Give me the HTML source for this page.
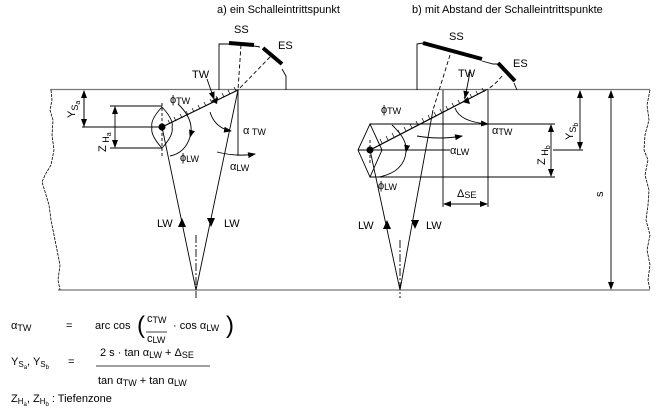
<!DOCTYPE html>
<html><head><style>
html,body{margin:0;padding:0;background:#fff;}
svg{display:block;font-family:"Liberation Sans",Arial,sans-serif;}
</style></head><body>
<svg width="661" height="415" viewBox="0 0 661 415" xmlns="http://www.w3.org/2000/svg">
<defs>
<marker id="ah" markerWidth="8" markerHeight="6" refX="7" refY="3" orient="auto" markerUnits="userSpaceOnUse"><path d="M0,0 L8,3 L0,6 Z" fill="#000"/></marker>
</defs>
<g fill="#000" font-size="11">
<text x="217" y="13">a) ein Schalleintrittspunkt</text>
<text x="412" y="13">b) mit Abstand der Schalleintrittspunkte</text>
</g>
<!-- workpiece -->
<g stroke="#777" stroke-width="1.3" fill="none">
<line x1="50" y1="89.5" x2="650" y2="89.5"/>
<line x1="58" y1="290" x2="650" y2="290"/>
</g>
<path d="M51,90 L52,100 L50,110 L53,120 L52,135 L54,150 L51,165 L45,175 L42,182 L46,195 L49,205 L51,220 L54,235 L57,250 L60,265 L58,280 L60,290" stroke="#000" stroke-width="0.8" fill="none" stroke-dasharray="3,1"/>
<path d="M650,90 L647,105 L649,120 L645,135 L644,150 L648,160 L645,175 L649,190 L648,205 L646,220 L650,235 L647,250 L650,265 L648,280 L650,290" stroke="#000" stroke-width="0.8" fill="none" stroke-dasharray="3,1"/>

<!-- LEFT -->
<g stroke="#000" fill="none" stroke-width="0.9">
<polyline points="219,90 219,44 229,44"/>
<polyline points="254,46 260,47"/>
<polyline points="282,69 286,76 286,90"/>
<line x1="229" y1="43" x2="254" y2="45" stroke-width="4"/>
<line x1="263" y1="48" x2="282" y2="64" stroke-width="4"/>
<line x1="241" y1="45" x2="238" y2="90" stroke-dasharray="4,2.5"/>
<line x1="270" y1="57" x2="238" y2="90" stroke-dasharray="4,2.5"/>
<line x1="207" y1="79" x2="214" y2="99" marker-end="url(#ah)"/>
<line x1="238" y1="90" x2="162" y2="127" stroke-width="1.2"/>
<line x1="162" y1="127" x2="196" y2="290"/>
<line x1="238" y1="90" x2="196" y2="290"/>
<line x1="196" y1="235" x2="196" y2="298" stroke-dasharray="8,2,2,2"/>
<line x1="238" y1="90" x2="238" y2="156"/>
<path d="M210,112 Q215,128 231,131" marker-end="url(#ah)"/>
<path d="M217,152 Q237,157 255,154" marker-end="url(#ah)"/>
<path d="M178,104 Q195,120 190,137" marker-end="url(#ah)"/>
<path d="M190,137 Q185,153 170,156"/>
<path d="M162,107 Q150,120 152,127 Q150,135 162,148 Q174,135 172,127 Q174,120 162,107 Z"/>
<line x1="162" y1="103" x2="162" y2="156" stroke-dasharray="3,2"/>
<line x1="82" y1="127" x2="162" y2="127"/>
<line x1="110" y1="106" x2="162" y2="106"/>
<line x1="110" y1="148" x2="162" y2="148"/>
<line x1="84" y1="127" x2="84" y2="91" marker-end="url(#ah)"/>
<line x1="84" y1="91" x2="84" y2="126" marker-end="url(#ah)"/>
<line x1="115" y1="127" x2="115" y2="107" marker-end="url(#ah)"/>
<line x1="115" y1="127" x2="115" y2="147" marker-end="url(#ah)"/>
</g>
<g stroke="#000" stroke-width="0.7">
<line x1="236" y1="91" x2="234" y2="87"/><line x1="230" y1="94" x2="228" y2="90"/><line x1="224" y1="97" x2="222" y2="93"/><line x1="218" y1="100" x2="216" y2="96"/><line x1="212" y1="103" x2="210" y2="99"/><line x1="206" y1="106" x2="204" y2="102"/><line x1="200" y1="109" x2="198" y2="105"/><line x1="194" y1="112" x2="192" y2="108"/><line x1="188" y1="115" x2="186" y2="111"/><line x1="182" y1="118" x2="180" y2="114"/><line x1="176" y1="121" x2="174" y2="117"/><line x1="170" y1="124" x2="168" y2="120"/>
</g>
<circle cx="162" cy="127" r="3.5" fill="#000"/>
<path d="M211,101 L218,97 L217,104 Z" fill="#000"/>
<path d="M182,218 L178,227 L186,227 Z" fill="#000"/>
<path d="M211,227 L207,218 L215,218 Z" fill="#000"/>
<g fill="#000" font-size="11">
<text x="234" y="33">SS</text><text x="278" y="49">ES</text><text x="192" y="78">TW</text>
<text x="170" y="103">ϕ<tspan font-size="9" dy="1">TW</tspan></text>
<text x="180" y="161">ϕ<tspan font-size="9" dy="1">LW</tspan></text>
<text x="243" y="134">α<tspan font-size="9" dy="1"> TW</tspan></text>
<text x="230" y="170">α<tspan font-size="9" dy="1">LW</tspan></text>
<text x="157" y="227">LW</text><text x="224" y="227">LW</text>
<text transform="translate(75,118) rotate(-90)">Y<tspan font-size="9" dy="3">S</tspan><tspan font-size="7" dy="2">a</tspan></text>
<text transform="translate(106,152) rotate(-90)">Z<tspan font-size="9" dy="3"> H</tspan><tspan font-size="7" dy="2">a</tspan></text>
</g>

<!-- RIGHT -->
<g stroke="#000" fill="none" stroke-width="0.9">
<polyline points="417,90 417,44 423,43"/>
<polyline points="482,61 493,64 497,64"/>
<polyline points="514,83 517,90"/>
<line x1="423" y1="43" x2="482" y2="59" stroke-width="4"/>
<line x1="498" y1="63" x2="515" y2="81" stroke-width="4"/>
<line x1="450" y1="55" x2="433" y2="110" stroke-dasharray="4,2.5"/>
<line x1="433" y1="110" x2="400" y2="290"/>
<line x1="370" y1="150" x2="400" y2="290"/>
<path d="M502,76 Q494,86 486,90" stroke-dasharray="4,2.5"/>
<line x1="486" y1="90" x2="370" y2="150" stroke-width="1.2"/>
<line x1="400" y1="240" x2="400" y2="298" stroke-dasharray="8,2,2,2"/>
<line x1="470" y1="72" x2="465" y2="98" marker-end="url(#ah)"/>
<line x1="443" y1="90" x2="443" y2="207"/>
<line x1="488" y1="90" x2="488" y2="207"/>
<line x1="465" y1="204" x2="444" y2="204" marker-end="url(#ah)"/>
<line x1="465" y1="204" x2="487" y2="204" marker-end="url(#ah)"/>
<line x1="370" y1="124" x2="555" y2="124"/>
<line x1="358" y1="150" x2="450" y2="150"/>
<line x1="553" y1="150" x2="583" y2="150"/>
<line x1="370" y1="177" x2="555" y2="177"/>
<line x1="551" y1="150" x2="551" y2="125" marker-end="url(#ah)"/>
<line x1="551" y1="150" x2="551" y2="176" marker-end="url(#ah)"/>
<line x1="580" y1="120" x2="580" y2="91" marker-end="url(#ah)"/>
<line x1="580" y1="120" x2="580" y2="149" marker-end="url(#ah)"/>
<line x1="611" y1="190" x2="611" y2="91" marker-end="url(#ah)"/>
<line x1="611" y1="190" x2="611" y2="289" marker-end="url(#ah)"/>
<polygon points="370,124 382,150 370,177 358,150"/>
<line x1="370" y1="140" x2="370" y2="165" stroke-dasharray="3,2"/>
<path d="M392,125 Q408,140 406,152" marker-end="url(#ah)"/>
<path d="M406,152 Q404,172 379,177"/>
<path d="M455,108 Q460,122 488,124" marker-end="url(#ah)"/>
<path d="M417,136 Q440,140 462,136" marker-end="url(#ah)"/>
</g>
<g stroke="#000" stroke-width="0.7">
<line x1="484" y1="92" x2="482" y2="88"/><line x1="478" y1="95" x2="476" y2="91"/><line x1="472" y1="98" x2="470" y2="94"/><line x1="466" y1="101" x2="464" y2="97"/><line x1="460" y1="104" x2="458" y2="100"/><line x1="454" y1="107" x2="452" y2="103"/><line x1="448" y1="110" x2="446" y2="106"/><line x1="442" y1="113" x2="440" y2="109"/><line x1="436" y1="116" x2="434" y2="112"/><line x1="430" y1="119" x2="428" y2="115"/><line x1="424" y1="122" x2="422" y2="118"/><line x1="418" y1="125" x2="416" y2="121"/><line x1="412" y1="128" x2="410" y2="124"/><line x1="406" y1="131" x2="404" y2="127"/><line x1="400" y1="134" x2="398" y2="130"/><line x1="394" y1="137" x2="392" y2="133"/><line x1="388" y1="140" x2="386" y2="136"/><line x1="382" y1="143" x2="380" y2="139"/>
</g>
<circle cx="370" cy="150" r="3.5" fill="#000"/>
<path d="M462,102 L468,97 L470,104 Z" fill="#000"/>
<path d="M387,220 L383,229 L391,229 Z" fill="#000"/>
<path d="M415,229 L411,220 L419,220 Z" fill="#000"/>
<g fill="#000" font-size="11">
<text x="449" y="40">SS</text><text x="513" y="67">ES</text><text x="458" y="77">TW</text>
<text x="381" y="113">ϕ<tspan font-size="9" dy="1">TW</tspan></text>
<text x="378" y="189">ϕ<tspan font-size="9" dy="1">LW</tspan></text>
<text x="492" y="134">α<tspan font-size="9" dy="1">TW</tspan></text>
<text x="450" y="154">α<tspan font-size="9" dy="1">LW</tspan></text>
<text x="457" y="197">Δ<tspan font-size="9" dy="1">SE</tspan></text>
<text x="358" y="229">LW</text><text x="426" y="229">LW</text>
<text transform="translate(573,140) rotate(-90)">Y<tspan font-size="9" dy="3">S</tspan><tspan font-size="7" dy="2">b</tspan></text>
<text transform="translate(545,165) rotate(-90)">Z<tspan font-size="9" dy="3"> H</tspan><tspan font-size="7" dy="2">b</tspan></text>
<text transform="translate(603,197) rotate(-90)">s</text>
</g>

<!-- formulas -->
<g fill="#000" font-size="11">
<text x="11" y="329">α<tspan font-size="9" dy="2">TW</tspan></text>
<text x="66" y="329">=</text>
<text x="95" y="329">arc cos</text>
<text x="137" y="333" font-size="24" font-weight="100">(</text>
<text x="147" y="322">c<tspan font-size="9" dy="1">TW</tspan></text>
<text x="147" y="342">c<tspan font-size="9" dy="1">LW</tspan></text>
<text x="173" y="329">· cos α<tspan font-size="9" dy="2">LW</tspan></text>
<text x="226" y="333" font-size="24">)</text>
<text x="11" y="365">Y<tspan font-size="8" dy="2">S</tspan><tspan font-size="6" dy="2">a</tspan><tspan dy="-4">, Y</tspan><tspan font-size="8" dy="2">S</tspan><tspan font-size="6" dy="2">b</tspan></text>
<text x="68" y="365">=</text>
<text x="100" y="356">2 s · tan α<tspan font-size="9" dy="2">LW</tspan><tspan dy="-2"> + Δ</tspan><tspan font-size="9" dy="2">SE</tspan></text>
<text x="98" y="384">tan α<tspan font-size="9" dy="2">TW</tspan><tspan dy="-2"> + tan α</tspan><tspan font-size="9" dy="2">LW</tspan></text>
<text x="11" y="402">Z<tspan font-size="8" dy="2">H</tspan><tspan font-size="6" dy="2">a</tspan><tspan dy="-4">, Z</tspan><tspan font-size="8" dy="2">H</tspan><tspan font-size="6" dy="2">b</tspan><tspan dy="-4"> : Tiefenzone</tspan></text>
</g>
<line x1="146" y1="332" x2="167" y2="332" stroke="#000" stroke-width="0.8"/>
<line x1="96" y1="366" x2="210" y2="366" stroke="#000" stroke-width="0.8"/>
</svg>
</body></html>
